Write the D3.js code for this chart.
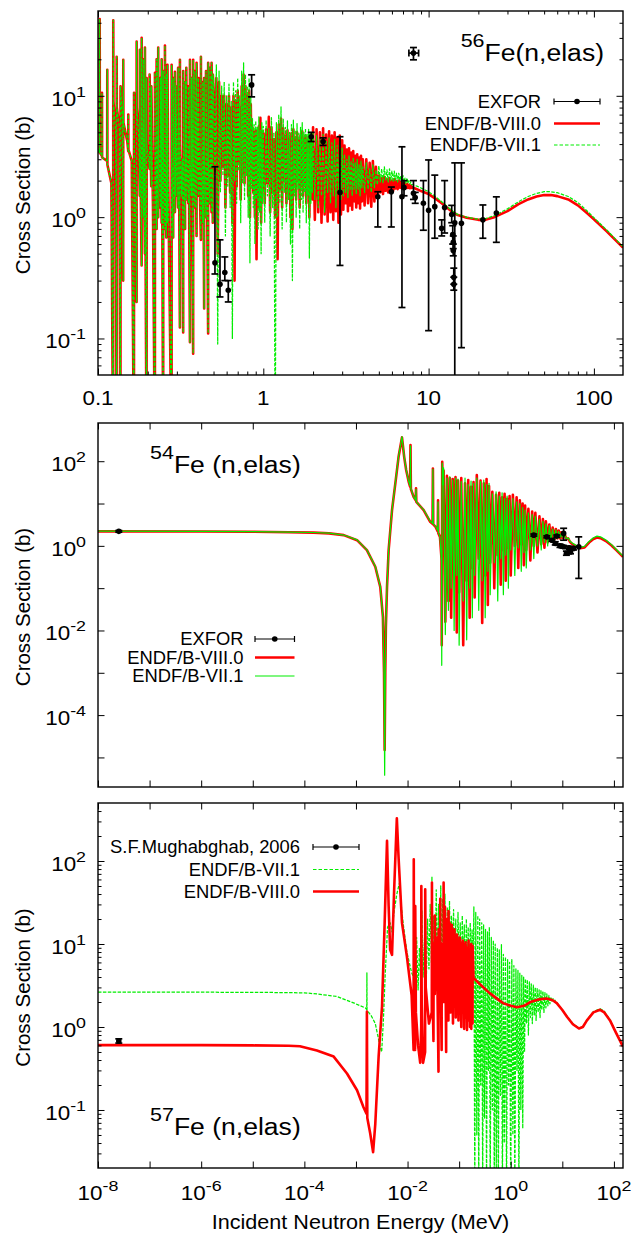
<!DOCTYPE html>
<html>
<head>
<meta charset="utf-8">
<script src="https://cdn.jsdelivr.net/npm/d3@7/dist/d3.min.js"></script>
<style>
  html,body{margin:0;padding:0;background:#fff;}
  svg{display:block;font-family:"Liberation Sans",Arial,Helvetica,sans-serif;}
</style>
</head>
<body>
<svg id="chart" width="634" height="1236"></svg>
<script>
// ================= DATA (energy in MeV, cross section in barns) =================
// --- 56Fe : resolved resonances shared by both evaluations (0.1 - 0.5 MeV)
const fe56Resonances = [
[0.1000,3.6],[0.1022,3.4],[0.1024,43],[0.1026,3.4],
[0.1055,3.2],[0.1057,10.6],[0.1059,3.1],
[0.1136,2.9],[0.1138,16.4],[0.1140,2.7],
[0.1205,1.9],[0.1235,0.01],[0.1237,42],[0.1240,9],
[0.1280,5],[0.1296,0.01],[0.1297,21],[0.1300,8],
[0.1345,5.5],[0.1367,0.01],[0.1369,12],[0.1400,7],
[0.1420,0.3],[0.1422,19.8],[0.1425,6],
[0.1505,4.2],[0.1524,3.5],[0.1525,7],[0.1528,3.6],
[0.1600,2.9],[0.1650,0.01],[0.1652,10.6],[0.1655,5],
[0.1712,0.2],[0.1713,28],[0.1716,8],
[0.1760,5],[0.1790,1.5],[0.1792,24],[0.1795,6],
[0.1836,0.4],[0.1837,30],[0.1840,7],
[0.1880,1.0],[0.1882,20],[0.1885,5],
[0.1922,0.5],[0.1923,25],[0.1926,4],
[0.1968,0.01],[0.1970,14],[0.1973,4],
[0.2050,2.5],[0.2052,15],[0.2100,1.8],[0.2102,12],[0.2150,1.3],
[0.2209,0.01],[0.2211,15.5],[0.2214,5],
[0.2262,0.8],[0.2263,20],[0.2266,6],
[0.2313,1.0],[0.2314,25],[0.2317,5],
[0.2380,1.2],[0.2382,14],[0.2426,0.9],[0.2427,20],[0.2440,4],
[0.2480,0.01],[0.2482,16],[0.2484,4],
[0.2540,0.8],[0.2541,26],[0.2545,3],
[0.2590,0.68],[0.2592,15],[0.2630,0.9],[0.2632,18],[0.2660,2],
[0.2787,0.01],[0.2789,18],[0.2792,3],
[0.2850,0.68],[0.2852,14],[0.2870,3],
[0.2919,1.1],[0.2920,15.8],[0.2960,1.5],[0.2962,12],[0.3000,3],
[0.3050,1.2],[0.3052,17],[0.3090,3],[0.3129,0.123],[0.3131,19.8],[0.3134,4],
[0.3200,1.5],[0.3230,3],[0.3276,0.112],[0.3278,16],[0.3300,3],
[0.3362,0.8],[0.3364,13],[0.3390,3],[0.3420,1.4],[0.3422,17],[0.3450,3],
[0.3520,1.3],[0.3522,12],[0.3599,0.093],[0.3601,19.8],[0.3605,3],
[0.3680,1.5],[0.3682,14],[0.3764,0.075],[0.3766,19.8],[0.3770,3],
[0.3850,1.2],[0.3852,16],[0.3900,3],[0.3947,0.7],[0.3949,18.7],[0.4000,3],[0.4050,1.5],[0.4052,14],
[0.4120,2],[0.4192,0.65],[0.4194,21],[0.4200,3],
[0.4300,0.9],[0.4302,13],[0.4340,2.5],[0.4387,0.177],[0.4389,14],[0.4395,3],
[0.4500,1.0],[0.4502,16],[0.4560,2.5],[0.4638,0.11],[0.4640,18.7],[0.4645,3],
[0.4750,1.3],[0.4752,17],[0.4800,3],[0.4863,1.1],[0.4865,18.7],[0.4950,0.9],[0.4952,15]
];
// --- 56Fe : dense structure 0.5 - 8 MeV
const fe56DenseVIII = [
[0.50,11],[0.51,2.4],[0.52,14],[0.53,0.5],[0.54,13],[0.55,2.0],[0.56,10],[0.57,2.6],[0.58,10],[0.59,1.2],
[0.60,8.5],[0.61,2.2],[0.62,10],[0.63,1.6],[0.64,8],[0.65,0.9],[0.66,10],[0.67,0.3],[0.68,9],[0.69,1.8],
[0.70,11],[0.71,2.8],[0.72,8],[0.73,1.4],[0.74,12],[0.75,2.3],[0.76,15],[0.77,1.9],[0.78,12],[0.79,2.6],
[0.80,10],[0.81,1.5],[0.82,11],[0.83,1.0],[0.84,8.5],[0.85,2.1],[0.86,5.5],[0.87,1.6],[0.88,5],[0.89,1.0],
[0.90,5.2],[0.91,0.45],[0.92,4.8],[0.93,1.2],[0.94,5.6],[0.95,1.5],[0.96,6.6],[0.97,0.9],[0.98,5.1],[0.99,1.7],
[1.00,4.9],[1.02,1.3],[1.04,5.3],[1.06,1.9],[1.08,6.7],[1.10,1.1],[1.12,5.5],[1.14,1.6],[1.16,4.4],[1.18,1.0],
[1.20,5.0],[1.22,0.45],[1.24,5.8],[1.26,1.7],[1.28,6.5],[1.30,1.2],[1.32,5.4],[1.34,2.0],[1.36,4.7],[1.38,1.3],
[1.40,5.2],[1.42,1.8],[1.44,4.4],[1.46,1.0],[1.48,4.9],[1.50,0.8],[1.52,5.3],[1.54,1.9],[1.56,4.5],[1.58,1.4],
[1.60,5.0],[1.62,2.0],[1.64,4.3],[1.66,1.2],[1.68,4.7],[1.70,1.8],[1.72,5.1],[1.74,1.5],[1.76,4.4],[1.78,1.9],
[1.80,4.7],[1.82,1.3],[1.84,4.3],[1.86,1.8],[1.88,4.6],[1.90,1.0],[1.92,4.4],[1.94,1.6],[1.96,4.2],[1.98,1.4],
[2.00,5.5],[2.05,0.95],[2.10,5.3],[2.15,1.1],[2.20,5.0],[2.25,0.9],[2.30,5.4],[2.35,1.05],[2.40,4.8],[2.45,0.92],
[2.50,5.1],[2.55,1.1],[2.60,4.7],[2.65,0.95],[2.70,5.0],[2.75,1.12],[2.80,4.5],[2.85,0.9],[2.90,4.7],[2.95,1.05],
[3.00,4.3],[3.05,1.15],[3.10,3.9],[3.15,1.3],[3.20,3.6],[3.25,1.12],[3.30,3.7],[3.35,1.25],[3.40,3.4],[3.45,1.15],
[3.50,3.5],[3.55,1.35],[3.60,3.2],[3.65,1.2],[3.70,3.3],[3.75,1.3],[3.80,3.1],[3.85,1.18],[3.90,3.2],[3.95,1.35],
[4.00,3.0],[4.10,1.25],[4.20,3.0],[4.30,1.3],[4.40,2.8],[4.50,1.22],[4.60,2.9],[4.70,1.35],[4.80,2.6],[4.90,1.5],
[5.00,2.2],[5.10,1.6],[5.20,2.1],[5.30,1.55],[5.40,2.15],[5.50,1.65],[5.60,2.05],[5.70,1.6],[5.80,2.1],[5.90,1.7],
[6.00,2.0],[6.10,1.65],[6.20,2.05],[6.30,1.72],[6.40,1.98],[6.50,1.7],[6.60,2.0],[6.70,1.75],[6.80,1.95],[6.90,1.72],
[7.00,1.92],[7.10,1.75],[7.20,1.9],[7.30,1.74],[7.40,1.88],[7.50,1.74],[7.60,1.85],[7.70,1.73],[7.80,1.82],[7.90,1.74],[8.00,1.76]
];
const fe56DenseVII = [
[0.50,14],[0.51,2.0],[0.52,18],[0.53,0.09],[0.54,16],[0.55,1.6],[0.56,12],[0.57,2.2],[0.58,13],[0.59,0.7],
[0.60,10],[0.61,1.8],[0.62,12.5],[0.63,1.2],[0.64,9],[0.65,0.1],[0.66,13],[0.67,2.0],[0.68,11],[0.69,1.3],
[0.70,14],[0.71,2.4],[0.72,10],[0.73,0.9],[0.74,16],[0.75,1.9],[0.76,18.7],[0.77,1.4],[0.78,15],[0.79,2.2],
[0.80,12],[0.81,1.0],[0.82,14],[0.83,0.42],[0.84,10],[0.85,1.7],[0.86,6.5],[0.87,1.2],[0.88,5.8],[0.89,0.6],
[0.90,6.2],[0.91,1.4],[0.92,5.5],[0.93,0.8],[0.94,6.7],[0.95,1.1],[0.96,5.2],[0.97,0.5],[0.98,6.0],[0.99,1.3],
[1.00,5.6],[1.02,0.9],[1.04,6.3],[1.06,1.5],[1.08,5.4],[1.10,0.7],[1.12,6.6],[1.14,1.2],[1.16,5.0],[1.18,0.01],
[1.20,6.0],[1.22,1.0],[1.24,7.0],[1.26,1.3],[1.28,8.1],[1.30,0.8],[1.32,6.5],[1.34,1.6],[1.36,5.5],[1.38,0.9],
[1.40,6.2],[1.42,1.4],[1.44,5.0],[1.46,0.6],[1.48,5.8],[1.50,0.3],[1.52,6.3],[1.54,1.5],[1.56,5.2],[1.58,1.0],
[1.60,5.9],[1.62,1.7],[1.64,4.9],[1.66,0.8],[1.68,5.5],[1.70,1.4],[1.72,6.0],[1.74,1.1],[1.76,5.0],[1.78,1.6],
[1.80,5.4],[1.82,0.9],[1.84,4.8],[1.86,1.5],[1.88,5.3],[1.90,0.46],[1.92,5.0],[1.94,1.3],[1.96,4.6],[1.98,1.6],
[2.00,5.0],[2.05,1.4],[2.10,4.7],[2.15,1.2],[2.20,4.4],[2.25,1.5],[2.30,4.8],[2.35,1.1],[2.40,4.3],[2.45,1.6],
[2.50,4.5],[2.55,1.3],[2.60,4.1],[2.65,1.5],[2.70,4.4],[2.75,1.2],[2.80,3.9],[2.85,1.6],[2.90,4.2],[2.95,1.4],
[3.00,3.7],[3.05,1.5],[3.10,3.3],[3.15,1.6],[3.20,3.0],[3.25,1.45],[3.30,3.2],[3.35,1.65],[3.40,2.9],[3.45,1.5],
[3.50,3.1],[3.55,1.7],[3.60,2.8],[3.65,1.55],[3.70,3.0],[3.75,1.7],[3.80,2.7],[3.85,1.5],[3.90,2.9],[3.95,1.75],
[4.00,2.6],[4.10,1.6],[4.20,2.8],[4.30,1.7],[4.40,2.5],[4.50,1.6],[4.60,2.7],[4.70,1.75],[4.80,2.45],[4.90,1.85],
[5.00,2.65],[5.10,1.95],[5.20,2.5],[5.30,1.9],[5.40,2.6],[5.50,2.0],[5.60,2.45],[5.70,1.95],[5.80,2.5],[5.90,2.0],
[6.00,2.4],[6.10,1.95],[6.20,2.4],[6.30,2.0],[6.40,2.3],[6.50,1.95],[6.60,2.3],[6.70,2.0],[6.80,2.2],[6.90,1.95],
[7.00,2.2],[7.10,1.95],[7.20,2.1],[7.30,1.9],[7.40,2.1],[7.50,1.9],[7.60,2.0],[7.70,1.88],[7.80,1.95],[7.90,1.85],[8.00,1.85]
];
const fe56TailVIII = [[8.5,1.70],[9,1.64],[10,1.55],[11,1.42],[12,1.30],[13,1.19],[14,1.10],[15,1.04],[17,0.99],[20,0.95],[22,0.95],[25,1.00],[30,1.12],[35,1.28],[40,1.40],[45,1.48],[50,1.52],[55,1.52],[60,1.49],[70,1.40],[80,1.25],[90,1.09],[100,0.96],[120,0.76],[150,0.56]];
const fe56TailVII  = [[8.5,1.80],[9,1.74],[10,1.62],[11,1.48],[12,1.34],[13,1.22],[14,1.12],[15,1.05],[17,1.00],[20,0.96],[22,0.97],[25,1.03],[30,1.17],[35,1.34],[40,1.48],[45,1.57],[50,1.62],[55,1.62],[60,1.59],[70,1.48],[80,1.32],[90,1.14],[100,0.99],[120,0.78],[150,0.57]];
// EXFOR: [E, sigma, sigmaLow, sigmaHigh, (Elow, Ehigh)]
const fe56Exfor = [
[0.51,0.42,0.34,2.6],[0.547,0.28,0.22,0.65],[0.585,0.35,0.30,0.47],[0.614,0.25,0.20,0.30],
[0.85,12.3,9.8,14.9],[1.95,4.6,4.2,5.0],[2.3,4.2,3.9,4.5],[2.91,1.6,0.40,4.6],
[4.93,1.47,0.83,1.62],[5.95,1.62,0.83,1.77],[6.9,1.47,0.18,3.8],[7.1,1.75,1.5,2.0],
[8.1,1.57,1.4,2.0],[8.3,1.45,1.3,1.6],[9.3,1.3,0.78,2.0],[10.0,1.14,0.116,2.96],
[10.9,1.22,0.67,2.22],[12.0,0.81,0.7,0.95],[12.5,1.2,0.74,2.0],
[13.8,1.05,0.9,1.25],[14.0,0.72,0.6,0.85],[14.1,0.62,0.55,0.7],[14.1,0.53,0.48,0.6],
[14.2,0.32,0.28,0.38],[14.2,0.28,0.25,0.32],[14.4,0.9,0.01,2.8],
[15.8,0.89,0.084,2.8],[21.3,0.95,0.67,1.26],[25.7,1.08,0.62,1.47],
[8.1,22.5,19.8,25,7.6,8.7]
];

// --- 54Fe
const fe54LowVIII = [
[1e-8,2.2],[1e-6,2.18],[1e-5,2.15],[5e-5,2.1],[1.5e-4,2.05],[3e-4,1.97],[5.8e-4,1.79],[1.05e-3,1.36],[1.63e-3,0.79],
[2.37e-3,0.32],[2.96e-3,0.107],[3.33e-3,0.021],[3.5e-3,1e-3],[3.6e-3,1.5e-5],[3.7e-3,1e-3],[3.8e-3,0.012],
[4.0e-3,0.107],[4.3e-3,0.79],[5.0e-3,7.0],[5.8e-3,30],[6.7e-3,127],[7.8e-3,365],[8.6e-3,127],[9.4e-3,62],
[0.0105,33],[0.0112,25],[0.0114,240],[0.0116,22],[0.0131,14.4],[0.0144,12],[0.0146,23],[0.0148,11],
[0.0205,7],[0.0275,3.7],[0.0305,3.3],[0.031,67],[0.0315,3.2],[0.035,2.8],[0.0385,2.2],[0.039,12],[0.0395,2.0],
[0.0425,1.63],[0.0455,0.5],[0.046,4.5e-3],[0.047,97],[0.048,30]
];
const fe54LowVII = [
[1e-8,2.22],[1e-6,2.2],[1e-5,2.17],[5e-5,2.12],[1.5e-4,2.07],[3e-4,1.99],[5.8e-4,1.8],[1.05e-3,1.38],[1.63e-3,0.8],
[2.37e-3,0.33],[2.96e-3,0.11],[3.33e-3,0.02],[3.5e-3,8e-4],[3.6e-3,3.8e-6],[3.7e-3,8e-4],[3.8e-3,0.012],
[4.0e-3,0.11],[4.3e-3,0.8],[5.0e-3,7.2],[5.8e-3,31],[6.7e-3,130],[7.8e-3,380],[8.6e-3,130],[9.4e-3,63],
[0.0105,34],[0.0112,26],[0.0114,230],[0.0116,23],[0.0131,14.6],[0.0144,12],[0.0146,22],[0.0148,11],
[0.0205,7.1],[0.0275,3.8],[0.0305,3.4],[0.031,65],[0.0315,3.3],[0.035,2.9],[0.0385,2.3],[0.039,11],[0.0395,2.1],
[0.0425,1.65],[0.0455,0.4],[0.046,1.5e-3],[0.047,90],[0.048,28]
];
const fe54DenseVIII = [
[0.050,60],[0.054,0.016],[0.058,45],[0.062,0.05],[0.066,40],[0.070,0.02],[0.075,38],[0.080,0.3],[0.085,42],[0.090,0.009],
[0.095,35],[0.100,0.08],[0.11,40],[0.12,0.0045],[0.13,30],[0.14,0.15],[0.15,36],[0.16,0.02],[0.17,25],[0.18,0.3],
[0.19,32],[0.20,0.06],[0.22,47],[0.24,0.5],[0.26,35],[0.28,0.015],[0.30,30],[0.32,0.2],[0.34,38],[0.36,0.04],
[0.38,26],[0.40,0.4],[0.44,19],[0.48,0.1],[0.52,16],[0.56,0.6],[0.60,18],[0.64,0.12],[0.68,14],[0.72,0.8],
[0.76,17],[0.80,0.15],[0.85,13],[0.90,0.9],[0.95,15],[1.0,0.2],[1.1,16],[1.2,1.0],[1.3,14],[1.4,0.3],
[1.5,12],[1.6,1.1],[1.7,10],[1.8,0.35],[1.9,9],[2.0,0.8],[2.2,7.5],[2.4,0.45],[2.6,6.5],[2.8,1.0],
[3.0,6],[3.3,0.7],[3.6,5],[3.9,1.1],[4.2,4.3],[4.5,0.9],[4.8,3.8],[5.2,1.2],[5.6,3.2],[6.0,1.3],
[6.5,2.7],[7.0,1.4],[7.5,2.5],[8.0,1.5],[8.5,2.3],[9.0,1.5],[9.5,2.1],[10,1.55],[11,1.9],[12,1.45],[13,1.5]
];
const fe54DenseVII = [
[0.050,70],[0.054,0.008],[0.058,40],[0.062,0.03],[0.066,43],[0.070,0.1],[0.075,36],[0.080,0.01],[0.085,40],[0.090,0.2],
[0.095,38],[0.100,0.0045],[0.11,33],[0.12,0.05],[0.13,40],[0.14,0.006],[0.15,28],[0.16,0.1],[0.17,34],[0.18,0.02],
[0.19,30],[0.20,0.2],[0.22,40],[0.24,0.03],[0.26,33],[0.28,0.15],[0.30,36],[0.32,0.02],[0.34,28],[0.36,0.25],
[0.38,30],[0.40,0.07],[0.44,17],[0.48,0.4],[0.52,19],[0.56,0.05],[0.60,15],[0.64,0.5],[0.68,18],[0.72,0.07],
[0.76,13],[0.80,0.6],[0.85,15],[0.90,0.1],[0.95,12],[1.0,0.8],[1.1,13],[1.2,0.2],[1.3,11],[1.4,0.9],
[1.5,10],[1.6,0.25],[1.7,8],[1.8,0.7],[1.9,7],[2.0,0.3],[2.2,6],[2.4,0.8],[2.6,5.5],[2.8,0.5],
[3.0,5],[3.3,1.0],[3.6,4.2],[3.9,0.8],[4.2,3.8],[4.5,1.2],[4.8,3.3],[5.2,1.0],[5.6,3.0],[6.0,1.3],
[6.5,2.5],[7.0,1.35],[7.5,2.4],[8.0,1.5],[8.5,2.2],[9.0,1.55],[9.5,2.0],[10,1.6],[11,1.85],[12,1.45],[13,1.55]
];
const fe54TailVIII = [[14,1.25],[15,1.15],[18,1.0],[22,0.88],[27,0.92],[33,1.2],[40,1.45],[47,1.58],[55,1.52],[70,1.3],[90,1.02],[110,0.8],[150,0.55]];
const fe54TailVII  = [[14,1.3],[15,1.2],[18,1.04],[22,0.92],[27,0.97],[33,1.27],[40,1.55],[47,1.7],[55,1.63],[70,1.38],[90,1.07],[110,0.83],[150,0.57]];
const fe54Exfor = [
[2.53e-8,2.2,2.1,2.3],[2.8,1.79,1.7,1.9],[5.0,1.63,1.55,1.72],[6.3,1.36,1.28,1.45],[7.3,1.14,1.05,1.25],
[7.8,1.7,1.6,1.8],[9.0,1.0,0.92,1.1],[10.6,1.97,1.36,2.6],[10.6,0.95,0.88,1.02],[12,0.67,0.6,0.75],
[13.5,0.9,0.82,0.98],[14.4,0.72,0.65,0.8],[16.5,0.87,0.8,0.95],[20.8,0.95,0.17,1.63]
];

// --- 57Fe
const fe57VII = [
[1e-8,2.63],[1e-5,2.62],[1e-4,2.58],[1.75e-4,2.5],[4.3e-4,2.33],[9e-4,1.95],[1.52e-3,1.7],[1.62e-3,1.62],[1.63e-3,4.5],
[1.64e-3,1.6],[2.0e-3,1.35],[2.37e-3,1.1],[2.9e-3,0.6],[3.15e-3,0.5],[3.4e-3,1.2],[3.7e-3,4.5],[4.1e-3,16],[4.6e-3,18],
[5.0e-3,14],[5.5e-3,25],[6.2e-3,40],[7.0e-3,55],[7.5e-3,30],[8.2e-3,18],[9.7e-3,8],[0.012,4.5],[0.0135,3.8],
[0.0145,3.7],[0.0150,12],[0.0160,2.8],[0.0170,9],[0.0180,3.5],[0.0190,25],[0.0200,4],[0.0215,14],[0.0230,3.2],[0.0245,20],
[0.0260,5],[0.0275,30],[0.0290,6],[0.0297,65],[0.0305,5],[0.0320,22],[0.0340,3],[0.0360,45],[0.0380,4.5],[0.0400,30],
[0.0420,2.5],[0.0440,50],[0.0460,5],[0.0480,35],[0.0500,3.5],[0.0530,40],[0.0560,4],[0.0590,28],[0.0620,2.8],[0.0650,33],
[0.0680,5],[0.0710,22],[0.0740,3],[0.0780,26],[0.0820,4.5],[0.0860,20],[0.0900,2.5],[0.0950,24],[0.1000,5],[0.105,18],
[0.110,3],[0.115,22],[0.120,4],[0.126,17],[0.132,2],[0.138,20],[0.144,3.5],[0.150,16],[0.157,2.5],[0.164,18],[0.171,4],
[0.178,15],[0.185,3],[0.193,28],[0.201,0.01],[0.210,24],[0.220,0.05],[0.230,22],[0.240,0.01],[0.250,20],[0.262,0.2],
[0.274,18],[0.286,0.01],[0.298,17],[0.310,0.08],[0.325,15],[0.340,0.01],[0.355,14],[0.370,0.3],[0.385,16],[0.400,0.01],
[0.420,12],[0.440,0.1],[0.460,11],[0.480,0.01],[0.500,10],[0.525,0.02],[0.550,9],[0.575,0.01],[0.600,8.5],[0.630,0.15],
[0.660,9.8],[0.690,0.01],[0.720,7.5],[0.750,0.04],[0.790,7],[0.830,0.01],[0.870,6.5],[0.910,0.2],[0.950,6],[1.00,0.01],
[1.05,6.5],[1.10,0.05],[1.15,5.5],[1.20,0.01],[1.26,5.0],[1.32,0.3],[1.38,4.8],[1.44,0.01],[1.50,4.5],[1.57,0.1],
[1.64,4.2],[1.71,0.06],[1.78,4.0],[1.85,0.5],[1.93,3.8],[2.01,1.1],[2.10,3.7],[2.20,0.8],[2.30,3.5],[2.40,1.3],
[2.50,3.3],[2.62,1.1],[2.74,3.2],[2.86,1.4],[2.98,3.0],[3.10,1.2],[3.25,2.9],[3.40,1.5],[3.55,2.8],[3.70,1.3],
[3.85,2.8],[4.00,1.6],[4.20,2.7],[4.40,1.5],[4.60,2.6],[4.80,1.7],[5.00,2.5],[5.25,1.8],[5.50,2.4],[5.75,1.9],
[6.00,2.3],[6.30,2.0],[6.60,2.2],[6.90,2.05],[7.20,2.1],[7.50,2.0],
[7.8,1.96],[10,1.62],[12.3,1.35],[16,1.1],[21,0.97],[25,1.01],[30,1.22],[40,1.53],[54,1.66],[65,1.55],[84,1.22],[110,0.86],[150,0.59]
];
const fe57VIII = [
[1e-8,0.605],[1e-6,0.605],[1e-5,0.60],[5e-5,0.595],[8.2e-5,0.585],[1.75e-4,0.52],[3.7e-4,0.44],[6.7e-4,0.275],
[1.05e-3,0.173],[1.4e-3,0.108],[1.6e-3,0.09],[1.63e-3,1.53],[1.66e-3,0.08],[1.89e-3,0.052],[2.15e-3,0.031],
[2.37e-3,0.068],[2.75e-3,0.44],[3.2e-3,1.76],[3.6e-3,18],[4.0e-3,175],[4.3e-3,28.6],[4.6e-3,8.5],[5.0e-3,7.4],
[5.5e-3,45],[6.2e-3,327],[6.7e-3,110],[7.8e-3,18],[9.7e-3,7.1],[0.0120,2.4],
[0.0131,0.53],[0.0132,105],[0.0134,2],[0.0140,0.53],[0.0141,28.6],[0.0145,1.5],[0.0160,0.6],[0.0176,0.37],[0.0184,1.0],
[0.0185,50],[0.0188,2],[0.0200,0.37],[0.0219,0.5],[0.0220,45.6],[0.0225,3],[0.0260,1.1],[0.0295,1.5],[0.0297,55],[0.0300,5],
[0.0318,0.68],[0.0320,10],[0.0338,2.5],[0.0340,22],[0.0345,5],[0.0368,2.8],[0.0370,12],[0.0398,0.29],[0.0400,15],
[0.0428,3],[0.0430,35],[0.0435,6],[0.0458,0.53],[0.0460,10],[0.0498,2],[0.0500,55],[0.0505,8],[0.053,3.7],[0.0532,28],
[0.056,0.5],[0.0562,20],[0.059,2.5],[0.0592,16],[0.062,1.2],[0.0622,25],[0.065,3.0],[0.0652,18],[0.068,1.5],[0.0682,14],
[0.072,3.2],[0.0722,17],[0.076,1.1],[0.0762,12],[0.081,2.5],[0.0812,15],[0.086,1.3],[0.0862,11],[0.091,2.8],[0.0912,13],
[0.097,1.2],[0.0972,11],[0.103,2.2],[0.1032,12],[0.110,1.0],[0.1103,10],[0.117,1.5],[0.1173,11],[0.125,0.95],[0.1253,9.8],
[0.133,1.3],[0.1333,10.5],[0.142,0.92],[0.1423,9],[0.152,1.2],[0.1523,11],[0.162,1.0],[0.1623,8.5],[0.172,0.95],[0.1723,10],
[0.182,1.1],[0.1823,9.5],[0.19,3.9],
[0.25,3.3],[0.39,2.56],[0.71,1.94],[1.0,1.8],[1.32,1.73],[1.8,1.8],[2.4,2.0],[3.5,2.15],[5.0,2.2],[6.5,2.1],[7.8,1.94],
[10,1.6],[12.3,1.33],[16,1.08],[21,0.96],[25,1.0],[30,1.2],[40,1.5],[54,1.61],[65,1.5],[84,1.2],[110,0.85],[150,0.58]
];
const fe57Mughabghab = [[2.53e-8,0.68,0.64,0.72]];

// --- axes: tick values and labels
const topXTicks = [0.1,1,10,100];
const topXLabels = ["0.1","1","10","100"];
const topYTicks = [0.1,1,10];
const wideXTicks = [1e-8,1e-7,1e-6,1e-5,1e-4,1e-3,1e-2,1e-1,1,10,100];
const wideXLabelExp = [-8,-6,-4,-2,0,2];
const midYTicks = [1e-5,1e-4,1e-3,1e-2,1e-1,1,10,100];
const midYLabelExp = [-4,-2,0,2];
const botYTicks = [0.1,1,10,100];
const botYLabelExp = [-1,0,1,2];
const topYLabelExp = [-1,0,1];

// ================= DRAWING =================
const svg = d3.select("#chart");
const defs = svg.append("defs");
const L = 98, R = 623;
const RED = "#ff0000", GREEN = "#00ee00";
const DASH = "3.5,1.4";

function rich(g, x, y, anchor, size, parts, sx, supSize, supRise) {
  const t = g.append("text")
    .attr("transform", `translate(${x},${y}) scale(${sx},1)`)
    .attr("text-anchor", anchor)
    .attr("font-size", size)
    .attr("fill", "#000");
  let cur = 0;
  parts.forEach(p => {
    const target = p.sup ? -supRise : 0;
    t.append("tspan").attr("dy", target - cur)
      .attr("font-size", p.sup ? supSize : size).text(p.t);
    cur = target;
  });
  return t;
}
const pow10 = e => [{t:"10"},{t:String(e),sup:true}];

function minorTicks(domain) {
  const out = [];
  const lo = Math.floor(Math.log10(domain[0])), hi = Math.ceil(Math.log10(domain[1]));
  for (let e = lo; e <= hi; e++) for (let m = 2; m <= 9; m++) {
    const v = m * Math.pow(10, e);
    if (v > domain[0] * 1.0001 && v < domain[1] * 0.9999) out.push(v);
  }
  return out;
}

function panel(o) {
  const x = d3.scaleLog().domain(o.xd).range([L, R]);
  const y = d3.scaleLog().domain(o.yd).range([o.bottom, o.top]);
  const clipId = "clip-" + o.name;
  defs.append("clipPath").attr("id", clipId).append("rect")
    .attr("x", L).attr("y", o.top).attr("width", R - L).attr("height", o.bottom - o.top);
  const g = svg.append("g");
  const plot = g.append("g").attr("clip-path", `url(#${clipId})`);
  const over = g.append("g");
  return {x, y, g, plot, over, o};
}

function drawAxes(p, cfg) {
  const o = p.o;
  const a = p.over.append("g");
  const tick = (fn, scale, vals, len, tr) => {
    if (!vals || !vals.length) return;
    a.append("g").attr("transform", tr)
      .call(fn(scale).tickValues(vals).tickSize(-len).tickFormat(() => ""))
      .call(s => {
        s.select(".domain").remove();
        s.selectAll("text").remove();
        s.selectAll("line").attr("stroke", "#000").attr("stroke-width", 1);
      });
  };
  tick(d3.axisBottom, p.x, cfg.xMajor, 6.5, `translate(0,${o.bottom})`);
  tick(d3.axisTop, p.x, cfg.xMajor, 6.5, `translate(0,${o.top})`);
  tick(d3.axisBottom, p.x, cfg.xMinor, 3.5, `translate(0,${o.bottom})`);
  tick(d3.axisTop, p.x, cfg.xMinor, 3.5, `translate(0,${o.top})`);
  tick(d3.axisLeft, p.y, cfg.yMajor, 6.5, `translate(${L},0)`);
  tick(d3.axisRight, p.y, cfg.yMajor, 6.5, `translate(${R},0)`);
  tick(d3.axisLeft, p.y, cfg.yMinor, 3.5, `translate(${L},0)`);
  tick(d3.axisRight, p.y, cfg.yMinor, 3.5, `translate(${R},0)`);
  a.append("rect").attr("x", L).attr("y", o.top).attr("width", R - L).attr("height", o.bottom - o.top)
    .attr("fill", "none").attr("stroke", "#000").attr("stroke-width", 1.4);
  cfg.yLabelExp.forEach(e => rich(a, 86, p.y(Math.pow(10, e)) + 10, "end", 19.5, pow10(e), 1.15, 15.5, 9));
  if (cfg.xLabels) cfg.xLabels.forEach(l => {
    const parts = l.exp !== undefined ? pow10(l.exp) : [{t:l.text}];
    rich(a, p.x(l.v), o.bottom + cfg.xLabelDy, "middle", 19.5, parts, 1.15, 15.5, 9);
  });
  a.append("text")
    .attr("transform", `translate(29.5,${(o.top + o.bottom) / 2 + 2}) rotate(-90)`)
    .attr("text-anchor", "middle").attr("font-size", 20.5).attr("fill", "#000")
    .text("Cross Section (b)");
}

function curve(p, data, color, width, dash) {
  const line = d3.line().x(d => p.x(d[0])).y(d => p.y(d[1]));
  p.plot.append("path").datum(data).attr("d", line)
    .attr("fill", "none").attr("stroke", color).attr("stroke-width", width)
    .attr("stroke-linejoin", "round").attr("stroke-dasharray", dash || null);
}

function exfor(p, data) {
  const g = p.plot.append("g").attr("stroke", "#000").attr("stroke-width", 1.7);
  g.selectAll("line.v").data(data).join("line").attr("class", "v")
    .attr("x1", d => p.x(d[0])).attr("x2", d => p.x(d[0]))
    .attr("y1", d => p.y(d[2])).attr("y2", d => p.y(d[3]));
  [2, 3].forEach(k => {
    g.selectAll("line.c" + k).data(data).join("line").attr("class", "c" + k)
      .attr("x1", d => p.x(d[0]) - 3.5).attr("x2", d => p.x(d[0]) + 3.5)
      .attr("y1", d => p.y(d[k])).attr("y2", d => p.y(d[k]));
  });
  const hx = data.filter(d => d.length > 4);
  g.selectAll("line.h").data(hx).join("line").attr("class", "h")
    .attr("x1", d => p.x(d[4])).attr("x2", d => p.x(d[5]))
    .attr("y1", d => p.y(d[1])).attr("y2", d => p.y(d[1]));
  [4, 5].forEach(k => {
    g.selectAll("line.hc" + k).data(hx).join("line").attr("class", "hc" + k)
      .attr("x1", d => p.x(d[k])).attr("x2", d => p.x(d[k]))
      .attr("y1", d => p.y(d[1]) - 3.5).attr("y2", d => p.y(d[1]) + 3.5);
  });
  p.plot.append("g").selectAll("circle").data(data).join("circle")
    .attr("cx", d => p.x(d[0])).attr("cy", d => p.y(d[1])).attr("r", 2.8).attr("fill", "#000");
}

function legend(g, xr, x0, x1, rows) {
  rows.forEach(r => {
    rich(g, xr, r.base, "end", 17.5, [{t:r.label}], 1.05, 17.5, 0);
    const ly = r.base - 6;
    if (r.kind === "exfor") {
      g.append("line").attr("x1", x0).attr("x2", x1).attr("y1", ly).attr("y2", ly).attr("stroke", "#000").attr("stroke-width", 1.2);
      [x0, x1].forEach(xx => g.append("line").attr("x1", xx).attr("x2", xx).attr("y1", ly - 3).attr("y2", ly + 3).attr("stroke", "#000").attr("stroke-width", 1.2));
      g.append("circle").attr("cx", (x0 + x1) / 2).attr("cy", ly).attr("r", 2.8).attr("fill", "#000");
    } else {
      g.append("line").attr("x1", x0).attr("x2", x1).attr("y1", ly).attr("y2", ly)
        .attr("stroke", r.color).attr("stroke-width", r.w).attr("stroke-dasharray", r.dash || null);
    }
  });
}

function title(g, x, y, anchor, iso, rest) {
  rich(g, x, y, anchor, 23.5, [{t:iso, sup:true}, {t:rest}], 1.13, 19, 14);
}

// ---------- Panel 1 : 56Fe ----------
const p1 = panel({name:"fe56", xd:[0.1,150], yd:[0.05,50], top:11, bottom:375});
curve(p1, fe56Resonances.concat(fe56DenseVIII, fe56TailVIII), RED, 2.6);
curve(p1, fe56Resonances.concat(fe56DenseVII, fe56TailVII), GREEN, 1.25, DASH);
exfor(p1, fe56Exfor);
drawAxes(p1, {
  xMajor: topXTicks, xMinor: minorTicks([0.1,150]), yMajor: topYTicks, yMinor: minorTicks([0.05,50]),
  yLabelExp: topYLabelExp, xLabels: topXTicks.map((v, i) => ({v, text: topXLabels[i]})), xLabelDy: 30
});
title(p1.over, 604, 60.7, "end", "56", "Fe(n,elas)");
legend(p1.over, 541, 554, 600, [
  {label:"EXFOR", kind:"exfor", base:107.5},
  {label:"ENDF/B-VIII.0", color:RED, w:2.6, base:129.5},
  {label:"ENDF/B-VII.1", color:GREEN, w:1.2, dash:"3.5,2", base:151}
]);

// ---------- Panel 2 : 54Fe ----------
const p2 = panel({name:"fe54", xd:[1e-8,150], yd:[2e-6,800], top:423, bottom:787});
curve(p2, fe54LowVIII.concat(fe54DenseVIII, fe54TailVIII), RED, 2.6);
curve(p2, fe54LowVII.concat(fe54DenseVII, fe54TailVII), GREEN, 1.2);
exfor(p2, fe54Exfor);
drawAxes(p2, {xMajor: wideXTicks, xMinor: [], yMajor: midYTicks, yMinor: [], yLabelExp: midYLabelExp});
title(p2.over, 150, 472.7, "start", "54", "Fe (n,elas)");
legend(p2.over, 243.5, 255, 294.5, [
  {label:"EXFOR", kind:"exfor", base:645},
  {label:"ENDF/B-VIII.0", color:RED, w:2.6, base:663.5},
  {label:"ENDF/B-VII.1", color:GREEN, w:1.2, base:682}
]);

// ---------- Panel 3 : 57Fe ----------
const p3 = panel({name:"fe57", xd:[1e-8,150], yd:[0.02,500], top:803, bottom:1168});
curve(p3, fe57VII, GREEN, 1.25, DASH);
curve(p3, fe57VIII, RED, 2.6);
exfor(p3, fe57Mughabghab);
drawAxes(p3, {
  xMajor: wideXTicks, xMinor: [], yMajor: botYTicks, yMinor: minorTicks([0.02,500]),
  yLabelExp: botYLabelExp, xLabels: wideXLabelExp.map(e => ({v: Math.pow(10, e), exp: e})), xLabelDy: 32
});
title(p3.over, 150, 1135, "start", "57", "Fe (n,elas)");
legend(p3.over, 300, 313, 359, [
  {label:"S.F.Mughabghab, 2006", kind:"exfor", base:853},
  {label:"ENDF/B-VII.1", color:GREEN, w:1.2, dash:"3.5,2", base:875.5},
  {label:"ENDF/B-VIII.0", color:RED, w:2.6, base:897.5}
]);
rich(svg, 360.5, 1229, "middle", 20, [{t:"Incident Neutron Energy (MeV)"}], 1.08, 20, 0);
</script>
</body>
</html>
